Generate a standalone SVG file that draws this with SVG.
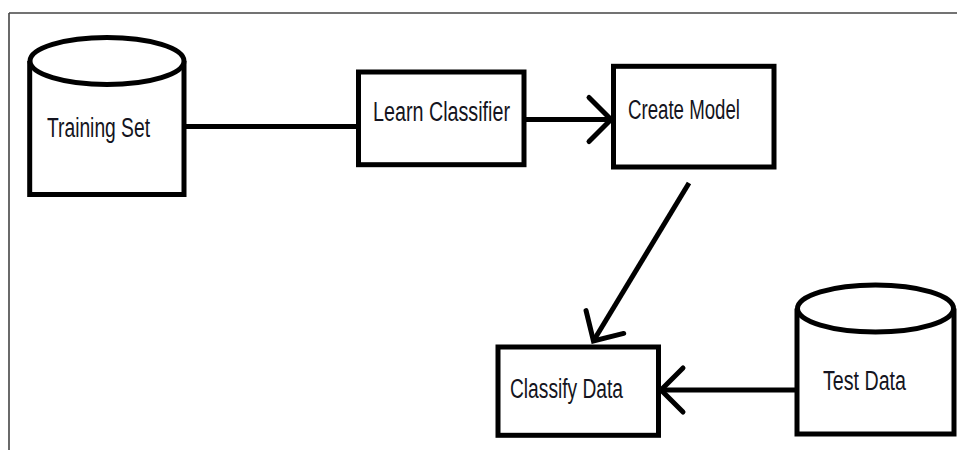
<svg xmlns="http://www.w3.org/2000/svg" width="957" height="450" viewBox="0 0 957 450">
  <defs>
    <style>
      .frame { stroke: #444; stroke-width: 1.6; fill: none; }
      .shape { stroke: #000; stroke-width: 5; fill: #fff; }
      .edge { stroke: #000; stroke-width: 5; fill: none; }
      .lbl { font-family: "Liberation Sans", Arial, sans-serif; font-size: 27px; fill: #141420; }
    </style>
    <marker id="chev" markerUnits="userSpaceOnUse" markerWidth="60" markerHeight="60" refX="30" refY="30" orient="auto" viewBox="0 0 60 60">
      <path d="M 9 8 L 31 30 L 9 52" fill="none" stroke="#000" stroke-width="5" stroke-linecap="round" stroke-linejoin="miter"/>
    </marker>
  </defs>
  <rect width="957" height="450" fill="#fff"/>
  <g id="frame">
    <line class="frame" x1="9" y1="13" x2="957" y2="13"/>
    <line class="frame" x1="9" y1="13" x2="9" y2="450"/>
  </g>
  <g id="connectors">
    <line class="edge" x1="186" y1="126.5" x2="358" y2="126.5"/>
    <line class="edge" x1="526" y1="119.5" x2="610" y2="119.5" marker-end="url(#chev)"/>
    <line class="edge" x1="689" y1="183" x2="594" y2="340" marker-end="url(#chev)"/>
    <line class="edge" x1="797" y1="390" x2="662" y2="390" marker-end="url(#chev)"/>
  </g>
  <g id="training-set">
    <path class="shape" d="M 29.7 61 L 29.7 194.5 L 184 194.5 L 184 61"/>
    <ellipse class="shape" cx="107" cy="61" rx="77" ry="23.5"/>
    <text class="lbl" x="47" y="137" textLength="103" lengthAdjust="spacingAndGlyphs">Training Set</text>
  </g>
  <g id="learn-classifier">
    <rect class="shape" x="358.5" y="72" width="165.5" height="92.7"/>
    <text class="lbl" x="373" y="121" textLength="137" lengthAdjust="spacingAndGlyphs">Learn Classifier</text>
  </g>
  <g id="create-model">
    <rect class="shape" x="613.5" y="66.3" width="160.5" height="100.7" stroke-width="5.5"/>
    <text class="lbl" x="628" y="118.7" textLength="112" lengthAdjust="spacingAndGlyphs">Create Model</text>
  </g>
  <g id="classify-data">
    <rect class="shape" x="498" y="347" width="160.5" height="88.3"/>
    <text class="lbl" x="510" y="397.7" textLength="113" lengthAdjust="spacingAndGlyphs">Classify Data</text>
  </g>
  <g id="test-data">
    <path class="shape" d="M 797 308.5 L 797 434 L 954 434 L 954 308.5"/>
    <ellipse class="shape" cx="875.5" cy="308.5" rx="78" ry="23.5"/>
    <text class="lbl" x="823" y="390" textLength="83" lengthAdjust="spacingAndGlyphs">Test Data</text>
  </g>
</svg>
